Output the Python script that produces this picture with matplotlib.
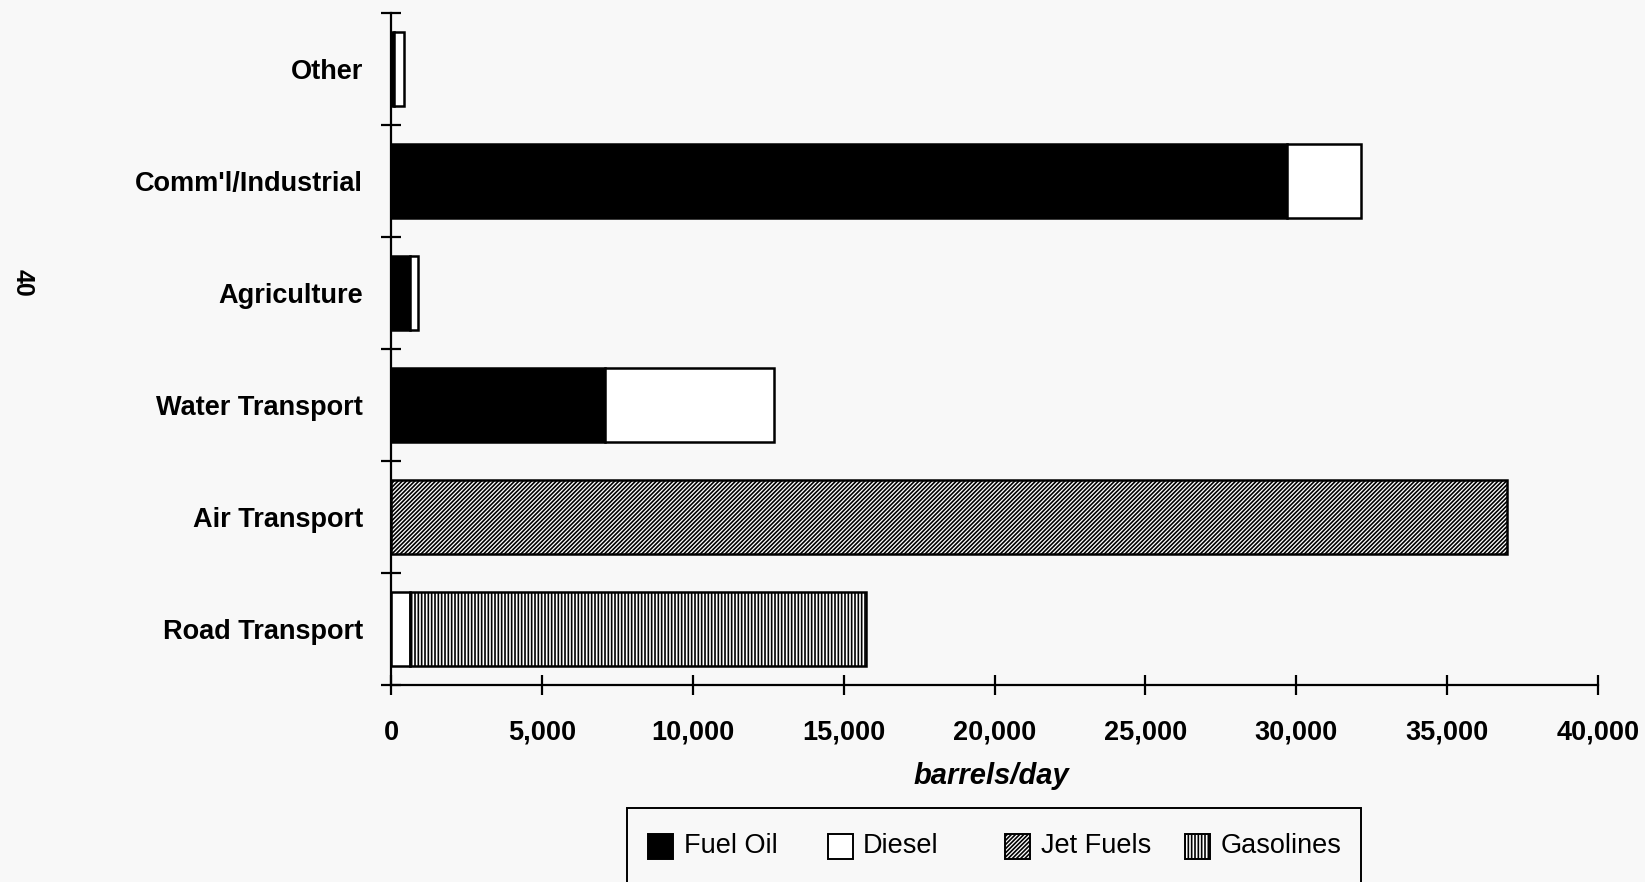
import matplotlib
matplotlib.use("Agg")
import matplotlib.pyplot as plt
from matplotlib.patches import Rectangle
from matplotlib.ticker import FixedLocator, FuncFormatter

# Petroleum product consumption by sector (barrels/day)
sectors = ["Road Transport", "Air Transport", "Water Transport",
           "Agriculture", "Comm'l/Industrial", "Other"]
fuel_oil = [0, 0, 7100, 620, 29700, 100]
diesel = [630, 0, 5600, 270, 2450, 330]
jet_fuels = [0, 37000, 0, 0, 0, 0]
gasolines = [15100, 0, 0, 0, 0, 0]

series = [
    ("Fuel Oil", fuel_oil, dict(facecolor="black", hatch=None)),
    ("Diesel", diesel, dict(facecolor="white", hatch=None)),
    ("Jet Fuels", jet_fuels, dict(facecolor="white", hatch="////////")),
    ("Gasolines", gasolines, dict(facecolor="white", hatch="|||||")),
]

bg = "#f8f8f8"
plt.rcParams["font.family"] = ["Liberation Sans", "DejaVu Sans"]
plt.rcParams["hatch.linewidth"] = 1.2
plt.rcParams["hatch.color"] = "black"

fig = plt.figure(figsize=(16.45, 8.82), dpi=100, facecolor=bg)
ax = fig.add_axes([391 / 1645, 1 - 685 / 882, (1598 - 391) / 1645, (685 - 13) / 882])
ax.set_facecolor(bg)

ypos = list(range(len(sectors)))
left = [0.0] * len(sectors)
for name, vals, style in series:
    idx = [i for i, v in enumerate(vals) if v > 0]
    ax.barh([ypos[i] for i in idx], [vals[i] for i in idx],
            left=[left[i] for i in idx], height=0.66,
            edgecolor="black", linewidth=1.8, label=name, **style)
    left = [l + v for l, v in zip(left, vals)]

ax.set_xlim(0, 40000)
ax.set_ylim(-0.5, len(sectors) - 0.5)

for s in ("top", "right"):
    ax.spines[s].set_visible(False)
for s in ("left", "bottom"):
    ax.spines[s].set_linewidth(1.6)

ax.set_xticks(range(0, 40001, 5000))
ax.xaxis.set_major_formatter(FuncFormatter(lambda v, p: f"{int(v):,}"))
ax.tick_params(axis="x", direction="inout", length=14, width=1.6, pad=18,
               labelsize=19.5)
for lab in ax.get_xticklabels():
    lab.set_fontweight("bold")

ax.set_yticks(ypos)
ax.set_yticklabels(sectors, fontsize=19.5, fontweight="bold")
ax.tick_params(axis="y", which="major", length=0, pad=20)
ax.yaxis.set_minor_locator(FixedLocator([i - 0.5 for i in range(len(sectors) + 1)]))
ax.tick_params(axis="y", which="minor", direction="inout", length=14, width=1.6)

fig.text(991 / 1645, 1 - 776 / 882, "barrels/day", ha="center", va="center",
         fontsize=21, fontweight="bold", style="italic")

fig.text(23 / 1645, 1 - 283 / 882, "40", rotation=270, ha="center", va="center",
         fontsize=18, fontweight="bold")

# Legend drawn as a framed strip running off the bottom edge
W, H = 1645.0, 882.0
frame = Rectangle((627 / W, -10 / H), (1361 - 627) / W, (882 - 808 + 10) / H,
                  transform=fig.transFigure, facecolor=bg, edgecolor="black",
                  linewidth=1.4, clip_on=False)
fig.add_artist(frame)
entries = [(648, 684), (828, 863), (1005, 1041), (1185, 1221)]
cy = 846
for (sx, tx), (name, vals, style) in zip(entries, series):
    sq = Rectangle((sx / W, 1 - (cy + 13) / H), 25 / W, 25 / H,
                   transform=fig.transFigure, edgecolor="black", linewidth=1.4,
                   **style)
    fig.add_artist(sq)
    fig.text(tx / W, 1 - cy / H, name, ha="left", va="center", fontsize=19.5)

fig.savefig("out.png", dpi=100, facecolor=bg)
